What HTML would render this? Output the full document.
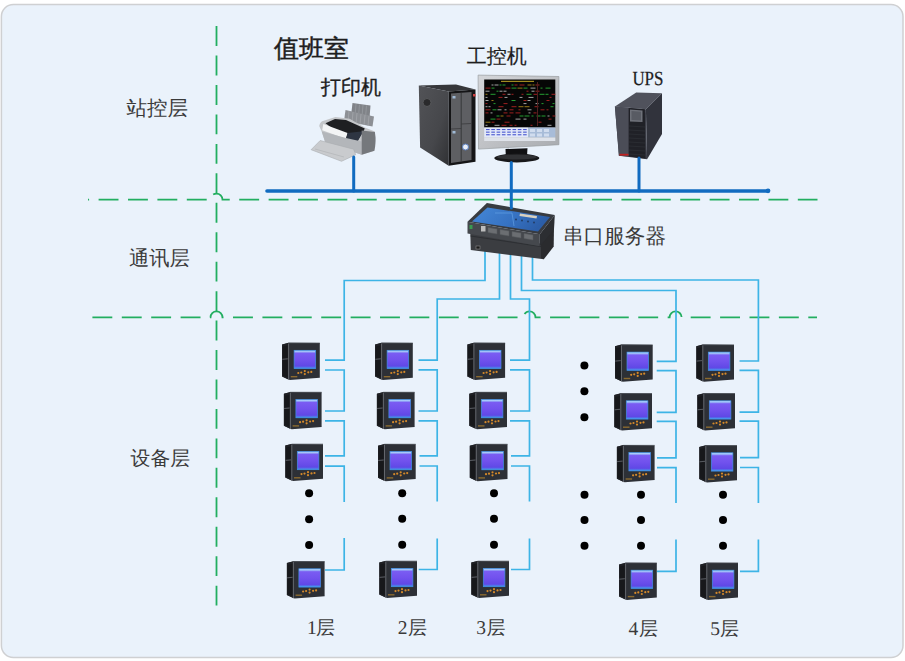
<!DOCTYPE html>
<html><head><meta charset="utf-8">
<style>
html,body{margin:0;padding:0;background:#fff;width:905px;height:661px;overflow:hidden}
svg{display:block}
.t{font-family:"Liberation Sans",sans-serif;fill:#3a3a3a}
.n{font-family:"Liberation Serif",serif;fill:#3a3a3a}
</style></head><body>
<svg width="905" height="661" viewBox="0 0 905 661" text-rendering="geometricPrecision">
<defs>
  <linearGradient id="scr" x1="0" y1="0" x2="0" y2="1">
    <stop offset="0" stop-color="#bfeaff"/>
    <stop offset="0.08" stop-color="#9ab8f8"/>
    <stop offset="0.16" stop-color="#7a5cf2"/>
    <stop offset="0.5" stop-color="#7252ee"/>
    <stop offset="0.86" stop-color="#6048e6"/>
    <stop offset="0.94" stop-color="#5078ea"/>
    <stop offset="1" stop-color="#44aef0"/>
  </linearGradient>
  <g id="meter">
    <path d="M0.3 2 L6.5 0.3 L38 0.6 L38 35.2 L8 37.5 L0.3 34 Z" fill="#2d3036"/>
    <path d="M0.3 2 L6.5 0.5 L6.5 37 L0.3 34 Z" fill="#1f2024"/>
    <path d="M1 4 L5.8 3 L5.8 15.5 L1 16 Z M1 17.5 L5.8 17 L5.8 35 L1 33 Z" fill="#17181b"/>
    <path d="M0.5 16.8 L6 16.3" stroke="#5e6166" stroke-width="0.9"/>
    <path d="M6.8 1 L6.8 37.3" stroke="#6a6d73" stroke-width="0.9"/>
    <path d="M6.5 0.6 L38 0.6" stroke="#44474e" stroke-width="0.8"/>
    <rect x="12.3" y="7.8" width="21.6" height="18.3" fill="url(#scr)" stroke="#3f8ee8" stroke-width="0.7"/>
    <g fill="#d4892a">
      <circle cx="16.5" cy="30.5" r="1.1"/><circle cx="19.5" cy="30" r="1.1"/>
      <circle cx="23" cy="28.6" r="1.1"/><circle cx="23" cy="31.6" r="1.1"/>
      <circle cx="26.5" cy="29.8" r="1.1"/><circle cx="29.5" cy="29.4" r="1.1"/>
    </g>
    <rect x="9" y="33.5" width="6.5" height="1.4" fill="#8a6a30"/>
  </g>
</defs>

<!-- frame -->
<rect x="1.4" y="4.4" width="901.6" height="653.2" rx="12" ry="12" fill="#eaf2fb" stroke="#cfd0d2" stroke-width="1.5"/>

<!-- green dashed lines -->
<g fill="none" stroke="#22ae60" stroke-width="1.8">
  <path d="M216.5 26.1 V605.5" stroke-dasharray="19.9 9.55"/>
  <path d="M88 199.6 H210.5 A6 6 0 0 1 222.5 199.6 H817.5" stroke-dasharray="19.9 9.5" stroke-dashoffset="18.8"/>
  <path d="M92.4 317.4 H210.5 A6 6 0 0 1 222.5 317.4 H523.5 A6 6 0 0 1 535.5 317.4 H669.6 A6 6 0 0 1 681.6 317.4 H817" stroke-dasharray="19.9 9.5"/>
</g>

<!-- light blue connections -->
<g fill="none" stroke="#3db4e6" stroke-width="1.7">
  <path d="M485 250 V280.5 H344.2 V360.2 H325"/>
  <path d="M499.5 250 V299 H437.2 V360.2 H418.5"/>
  <path d="M510.5 250 V299 H529.5 V360.2 H510"/>
  <path d="M521.5 250 V290.5 H676 V361.3 H656.7"/>
  <path d="M532.5 250 V280 H758.4 V361 H739.5"/>
  <!-- col1 -->
  <path d="M325 370 H344.2 V411 H325"/>
  <path d="M325 420.8 H344.2 V455.8 H325"/>
  <path d="M325 466.2 H344.2 V502"/>
  <path d="M344.2 538 V570 H325"/>
  <!-- col2 -->
  <path d="M418.5 369.8 H437.2 V411 H418.5"/>
  <path d="M418.5 420.8 H437.2 V455.9 H419.5"/>
  <path d="M419.5 466 H437.2 V501.5"/>
  <path d="M437.2 538.4 V569.5 H418.7"/>
  <!-- col3 -->
  <path d="M510 369.8 H529.5 V411 H510"/>
  <path d="M510 420.8 H529.5 V455.9 H511"/>
  <path d="M511 466 H529.5 V501.5"/>
  <path d="M529.5 538.4 V569.5 H511"/>
  <!-- col4 -->
  <path d="M656.7 370.6 H676 V412.4 H656.7"/>
  <path d="M656.7 421.4 H676 V457.8 H657"/>
  <path d="M657 467.7 H676 V503"/>
  <path d="M676 539.5 V571.3 H657"/>
  <!-- col5 -->
  <path d="M739.5 370.4 H758.4 V412.2 H739.5"/>
  <path d="M739.5 421.2 H758.4 V457.6 H740"/>
  <path d="M740 467.5 H758.4 V503"/>
  <path d="M758.4 539.5 V571.3 H740"/>
</g>


<!-- printer -->
<g id="printer">
  <polygon points="352.5,103 370.5,105.5 369.5,118 351,116" fill="#808388"/>
  <path d="M356 104 L355 116 M359.5 104.5 L358.5 116.5 M363 105 L362 117 M366.5 105.5 L365.5 117.5" stroke="#979a9f" stroke-width="0.8"/>
  <polygon points="345.5,110 374,116.5 372.5,126.5 344,121" fill="#8d9095"/>
  <path d="M349 111 L348 122 M353 112 L352 123 M357 113 L356 124 M361 114 L360 124.5 M365 115 L364 125 M369 116 L368 126" stroke="#a3a6ab" stroke-width="0.8"/>
  <path d="M319.2,126 Q320,121.5 323.7,120.8 L335.4,117 L349.6,118.8 L364.8,127.4 L374.9,131.4 L374.4,150.7 L361.7,154.7 L325.3,142.6 L321.7,131.4 Z" fill="#c4c6c9"/>
  <polygon points="325.5,123.2 335,119 346,120 364.8,128.6 363.6,131 357,141.5 346,138.5" fill="#1e1f22"/>
  <polygon points="323.3,123.9 347.6,133 345.9,138.8 322.2,130.2" fill="#f3f4f5"/>
  <polygon points="347.6,133 363.2,131.2 357.5,141.8 345.9,139.8" fill="#2e3542"/>
  <polygon points="321.7,131.4 346,138 361.7,141.6 361.7,154.7 325.3,142.6" fill="#b3b6ba"/>
  <path d="M361.7,130.4 L374.9,132 Q376.5,141 374.4,150.7 L361.7,154.7 Z" fill="#75787c"/>
  <polygon points="311.1,149.7 320.2,140.5 353.6,149.2 355.7,154.7 341.5,161.3" fill="#c9cbce" stroke="#a9acb0" stroke-width="0.6"/>
  <path d="M315 149 L344 157" stroke="#b2b5b8" stroke-width="0.7"/>
</g>
<!-- tower pc -->
<g id="tower">
  <polygon points="418.8,85.4 456,84.5 475.5,89.5 448.7,91.6" fill="#36373a"/>
  <defs><linearGradient id="side" x1="0" y1="0" x2="1" y2="1">
    <stop offset="0" stop-color="#525357"/><stop offset="0.6" stop-color="#46474b"/><stop offset="1" stop-color="#303134"/></linearGradient></defs>
  <polygon points="418.8,85.4 448.7,91.6 448.7,165.8 420.1,147.4" fill="url(#side)"/>
  <polygon points="448.7,91.6 475.5,89.5 475.5,161.7 448.7,165.8" fill="#151517"/>
  <polygon points="451,93.5 471.5,92 471.5,160 451,163" fill="#5e5f63"/>
  <path d="M461.2 92.8 V161.5" stroke="#333436" stroke-width="0.9"/>
  <path d="M451 129 L461.2 128.5 M461.2 124 L471.5 123.5" stroke="#3a3a3c" stroke-width="0.8"/>
  <circle cx="427" cy="102.5" r="4" fill="#2a2a2c" stroke="#5a5b5e" stroke-width="0.9"/>
  <circle cx="465.5" cy="147" r="3" fill="#e8eef8" stroke="#5a7fc0" stroke-width="1"/>
  <rect x="452.5" y="96" width="3" height="2.5" fill="#9fbad6"/>
  <rect x="452.5" y="131" width="3" height="2.5" fill="#9fbad6"/>
  <rect x="473" y="94" width="2.5" height="2.5" fill="#d04040"/>
</g>
<!-- monitor -->
<g id="monitor">
  <defs><linearGradient id="bez" x1="0" y1="0" x2="1" y2="1">
    <stop offset="0" stop-color="#d4d6d9"/><stop offset="0.5" stop-color="#c0c2c6"/><stop offset="1" stop-color="#a9acb0"/></linearGradient></defs>
  <polygon points="478.1,75.1 558.9,76.5 558.9,144.7 478.5,149.1" fill="url(#bez)" stroke="#9a9da1" stroke-width="0.7"/>
  <rect x="484.2" y="79.5" width="71.1" height="48" fill="#060606"/>
  <rect x="484.2" y="127.5" width="44" height="10" fill="#e2e8f8"/>
  <rect x="528.2" y="127.5" width="27.1" height="10" fill="#a8bcd8"/>
  <g fill="#4a58d0">
<rect x="486.0" y="129.0" width="3.6" height="1.1"/>
<rect x="486.0" y="131.6" width="3.6" height="1.1"/>
<rect x="486.0" y="134.2" width="3.6" height="1.1"/>
<rect x="491.3" y="129.0" width="3.6" height="1.1"/>
<rect x="491.3" y="131.6" width="3.6" height="1.1"/>
<rect x="491.3" y="134.2" width="3.6" height="1.1"/>
<rect x="496.6" y="129.0" width="3.6" height="1.1"/>
<rect x="496.6" y="131.6" width="3.6" height="1.1"/>
<rect x="496.6" y="134.2" width="3.6" height="1.1"/>
<rect x="501.9" y="129.0" width="3.6" height="1.1"/>
<rect x="501.9" y="131.6" width="3.6" height="1.1"/>
<rect x="501.9" y="134.2" width="3.6" height="1.1"/>
<rect x="507.2" y="129.0" width="3.6" height="1.1"/>
<rect x="507.2" y="131.6" width="3.6" height="1.1"/>
<rect x="507.2" y="134.2" width="3.6" height="1.1"/>
<rect x="512.5" y="129.0" width="3.6" height="1.1"/>
<rect x="512.5" y="131.6" width="3.6" height="1.1"/>
<rect x="512.5" y="134.2" width="3.6" height="1.1"/>
<rect x="517.8" y="129.0" width="3.6" height="1.1"/>
<rect x="517.8" y="131.6" width="3.6" height="1.1"/>
<rect x="517.8" y="134.2" width="3.6" height="1.1"/>
<rect x="523.1" y="129.0" width="3.6" height="1.1"/>
<rect x="523.1" y="131.6" width="3.6" height="1.1"/>
<rect x="523.1" y="134.2" width="3.6" height="1.1"/>
</g>
  <g fill="#d0dcee"><rect x="530" y="129" width="5" height="3"/><rect x="537" y="129" width="5" height="3"/><rect x="544" y="129" width="5" height="3"/>
  <rect x="530" y="133.5" width="5" height="3"/><rect x="537" y="133.5" width="5" height="3"/><rect x="544" y="133.5" width="5" height="3"/></g>
  <rect x="484.2" y="137.5" width="71.1" height="3.5" fill="#dfe3ea"/>
  <rect x="501" y="80.8" width="33" height="1.2" fill="#a08a20"/>
  <g opacity="0.75">
    <rect x="491.5" y="84.5" width="2" height="1" fill="#d8d8d8"/>
    <rect x="494.5" y="84.5" width="4" height="1" fill="#d8d8d8"/>
    <rect x="499.5" y="84.5" width="2" height="1" fill="#30d040"/>
    <rect x="502.5" y="84.5" width="3" height="1" fill="#30d040"/>
    <rect x="511.5" y="84.5" width="2" height="1" fill="#30d040"/>
    <rect x="514.5" y="84.5" width="3" height="1" fill="#d02828"/>
    <rect x="519.5" y="84.5" width="5" height="1" fill="#d02828"/>
    <rect x="527.5" y="84.5" width="4" height="1" fill="#c8a020"/>
    <rect x="532.5" y="84.5" width="2" height="1" fill="#c8a020"/>
    <rect x="535.5" y="84.5" width="4" height="1" fill="#d02828"/>
    <rect x="485.5" y="87.6" width="5" height="1" fill="#d02828"/>
    <rect x="491.5" y="87.6" width="3" height="1" fill="#30d040"/>
    <rect x="505.5" y="87.6" width="5" height="1" fill="#d02828"/>
    <rect x="511.5" y="87.6" width="5" height="1" fill="#30d040"/>
    <rect x="517.5" y="87.6" width="5" height="1" fill="#c8a020"/>
    <rect x="523.5" y="87.6" width="4" height="1" fill="#30d040"/>
    <rect x="530.5" y="87.6" width="5" height="1" fill="#d8d8d8"/>
    <rect x="540.5" y="87.6" width="2" height="1" fill="#30d040"/>
    <rect x="545.5" y="87.6" width="5" height="1" fill="#30d040"/>
    <rect x="485.5" y="90.7" width="4" height="1" fill="#d8d8d8"/>
    <rect x="496.5" y="90.7" width="2" height="1" fill="#30d040"/>
    <rect x="499.5" y="90.7" width="3" height="1" fill="#d8d8d8"/>
    <rect x="503.5" y="90.7" width="3" height="1" fill="#d8d8d8"/>
    <rect x="526.5" y="90.7" width="2" height="1" fill="#d02828"/>
    <rect x="531.5" y="90.7" width="3" height="1" fill="#d8d8d8"/>
    <rect x="535.5" y="90.7" width="4" height="1" fill="#d02828"/>
    <rect x="485.5" y="93.8" width="2" height="1" fill="#c8a020"/>
    <rect x="490.5" y="93.8" width="5" height="1" fill="#30d040"/>
    <rect x="502.5" y="93.8" width="3" height="1" fill="#d02828"/>
    <rect x="507.5" y="93.8" width="3" height="1" fill="#d8d8d8"/>
    <rect x="511.5" y="93.8" width="2" height="1" fill="#d02828"/>
    <rect x="521.5" y="93.8" width="2" height="1" fill="#d02828"/>
    <rect x="526.5" y="93.8" width="5" height="1" fill="#30d040"/>
    <rect x="533.5" y="93.8" width="4" height="1" fill="#d02828"/>
    <rect x="539.5" y="93.8" width="5" height="1" fill="#30d040"/>
    <rect x="545.5" y="93.8" width="3" height="1" fill="#30d040"/>
    <rect x="551.5" y="93.8" width="4" height="1" fill="#d02828"/>
    <rect x="485.5" y="96.9" width="2" height="1" fill="#d8d8d8"/>
    <rect x="498.5" y="96.9" width="4" height="1" fill="#d02828"/>
    <rect x="504.5" y="96.9" width="3" height="1" fill="#d8d8d8"/>
    <rect x="519.5" y="96.9" width="3" height="1" fill="#d8d8d8"/>
    <rect x="528.5" y="96.9" width="5" height="1" fill="#d8d8d8"/>
    <rect x="549.5" y="96.9" width="2" height="1" fill="#d02828"/>
    <rect x="485.5" y="100.0" width="3" height="1" fill="#d8d8d8"/>
    <rect x="491.5" y="100.0" width="2" height="1" fill="#c8a020"/>
    <rect x="511.5" y="100.0" width="4" height="1" fill="#30d040"/>
    <rect x="523.5" y="100.0" width="3" height="1" fill="#d02828"/>
    <rect x="527.5" y="100.0" width="3" height="1" fill="#d8d8d8"/>
    <rect x="546.5" y="100.0" width="3" height="1" fill="#d02828"/>
    <rect x="485.5" y="103.1" width="2" height="1" fill="#d02828"/>
    <rect x="493.5" y="103.1" width="2" height="1" fill="#30d040"/>
    <rect x="503.5" y="103.1" width="4" height="1" fill="#d02828"/>
    <rect x="523.5" y="103.1" width="3" height="1" fill="#d8d8d8"/>
    <rect x="535.5" y="103.1" width="3" height="1" fill="#d8d8d8"/>
    <rect x="541.5" y="103.1" width="2" height="1" fill="#30d040"/>
    <rect x="552.5" y="103.1" width="2" height="1" fill="#30d040"/>
    <rect x="485.5" y="106.2" width="2" height="1" fill="#d8d8d8"/>
    <rect x="488.5" y="106.2" width="2" height="1" fill="#d8d8d8"/>
    <rect x="498.5" y="106.2" width="5" height="1" fill="#d02828"/>
    <rect x="511.5" y="106.2" width="5" height="1" fill="#d02828"/>
    <rect x="518.5" y="106.2" width="5" height="1" fill="#c8a020"/>
    <rect x="524.5" y="106.2" width="5" height="1" fill="#c8a020"/>
    <rect x="534.5" y="106.2" width="4" height="1" fill="#d02828"/>
    <rect x="550.5" y="106.2" width="3" height="1" fill="#30d040"/>
    <rect x="485.5" y="109.3" width="5" height="1" fill="#d02828"/>
    <rect x="492.5" y="109.3" width="4" height="1" fill="#30d040"/>
    <rect x="497.5" y="109.3" width="4" height="1" fill="#d8d8d8"/>
    <rect x="504.5" y="109.3" width="2" height="1" fill="#d8d8d8"/>
    <rect x="509.5" y="109.3" width="4" height="1" fill="#d02828"/>
    <rect x="518.5" y="109.3" width="2" height="1" fill="#d02828"/>
    <rect x="527.5" y="109.3" width="4" height="1" fill="#d8d8d8"/>
    <rect x="540.5" y="109.3" width="4" height="1" fill="#d02828"/>
    <rect x="546.5" y="109.3" width="2" height="1" fill="#d02828"/>
    <rect x="485.5" y="112.4" width="3" height="1" fill="#d02828"/>
    <rect x="490.5" y="112.4" width="2" height="1" fill="#d8d8d8"/>
    <rect x="503.5" y="112.4" width="4" height="1" fill="#d02828"/>
    <rect x="509.5" y="112.4" width="4" height="1" fill="#d02828"/>
    <rect x="515.5" y="112.4" width="5" height="1" fill="#d02828"/>
    <rect x="528.5" y="112.4" width="2" height="1" fill="#d8d8d8"/>
    <rect x="533.5" y="112.4" width="3" height="1" fill="#d02828"/>
    <rect x="496.5" y="115.5" width="3" height="1" fill="#30d040"/>
    <rect x="500.5" y="115.5" width="3" height="1" fill="#c8a020"/>
    <rect x="506.5" y="115.5" width="4" height="1" fill="#d02828"/>
    <rect x="519.5" y="115.5" width="4" height="1" fill="#30d040"/>
    <rect x="524.5" y="115.5" width="5" height="1" fill="#30d040"/>
    <rect x="531.5" y="115.5" width="2" height="1" fill="#30d040"/>
    <rect x="536.5" y="115.5" width="4" height="1" fill="#30d040"/>
    <rect x="541.5" y="115.5" width="4" height="1" fill="#30d040"/>
    <rect x="547.5" y="115.5" width="2" height="1" fill="#d8d8d8"/>
    <rect x="552.5" y="115.5" width="3" height="1" fill="#d02828"/>
    <rect x="490.5" y="118.6" width="5" height="1" fill="#30d040"/>
    <rect x="496.5" y="118.6" width="4" height="1" fill="#d02828"/>
    <rect x="515.5" y="118.6" width="5" height="1" fill="#d8d8d8"/>
    <rect x="523.5" y="118.6" width="3" height="1" fill="#d8d8d8"/>
    <rect x="548.5" y="118.6" width="3" height="1" fill="#d02828"/>
    <rect x="485.5" y="121.7" width="5" height="1" fill="#c8a020"/>
    <rect x="491.5" y="121.7" width="3" height="1" fill="#d02828"/>
    <rect x="504.5" y="121.7" width="5" height="1" fill="#d02828"/>
    <rect x="538.5" y="121.7" width="3" height="1" fill="#d02828"/>
    <rect x="485.5" y="124.8" width="2" height="1" fill="#d8d8d8"/>
    <rect x="494.5" y="124.8" width="5" height="1" fill="#d8d8d8"/>
    <rect x="501.5" y="124.8" width="5" height="1" fill="#d02828"/>
    <rect x="509.5" y="124.8" width="3" height="1" fill="#d02828"/>
    <rect x="514.5" y="124.8" width="2" height="1" fill="#d02828"/>
    <rect x="530.5" y="124.8" width="2" height="1" fill="#d02828"/>
    <rect x="547.5" y="124.8" width="4" height="1" fill="#d8d8d8"/>
  </g>
  <rect x="537" y="82" width="1" height="44" fill="#502020"/>
  <path d="M505.5 149 L527.5 148.2 L527 155.5 L505.8 155.8 Z" fill="#101012"/>
  <ellipse cx="516.8" cy="158" rx="22.5" ry="4.4" fill="#18181a"/>
  <ellipse cx="516.8" cy="157" rx="20" ry="2.6" fill="#303134"/>
</g>
<!-- ups -->
<g id="ups">
  <polygon points="614.9,106.4 636.2,92.6 662,93.2 645.9,109.3" fill="#50525c"/>
  <polygon points="645.9,109.3 662,93.2 662,134 647.1,159.3" fill="#31333c"/>
  <polygon points="614.9,106.4 645.9,109.3 647.1,159.3 618.9,155.8" fill="#3d3f49"/>
  <polygon points="614.9,106.4 628.7,107.8 628.7,156.5 618.9,155.8" fill="#4b4d57"/>
  <polygon points="628.7,107.9 644.8,109.2 645.5,158.6 628.7,156.5" fill="#202127"/>
  <polygon points="630,109.5 642.5,110.5 642.5,122 630,121.5" fill="#6f727a"/>
  <polygon points="631.5,111 641,111.8 641,120.5 631.5,120" fill="#585b63"/>
  <g stroke="#2e3037" stroke-width="0.7">
    <path d="M629 126 L645 127 M629 130 L645 131 M629 134 L645 135 M629 138 L645 139 M629 142 L645 143 M629 146 L645 147 M629 150 L645 151 M629 154 L645 155"/>
  </g>
  <rect x="619.5" y="153.8" width="9" height="1.8" fill="#c02020"/>
</g>
<!-- serial server -->
<g id="server">
  <polygon points="470.3,233 543.8,244 543.8,259.3 470.8,250" fill="#3b3d41"/>
  <path d="M470.5 236 L543.8 247" stroke="#2a2c30" stroke-width="0.8"/>
  <polygon points="541,240 554,226 553.7,246.6 543.8,259.3 541,258" fill="#2a2b2e"/>
  <polygon points="467.5,221.8 486.9,203 554.8,215.1 539.8,234.3" fill="#383b40"/>
  <defs><linearGradient id="bp" x1="0" y1="0" x2="1" y2="0.3">
    <stop offset="0" stop-color="#4588d8"/><stop offset="0.6" stop-color="#3672c2"/><stop offset="1" stop-color="#2c5ea8"/></linearGradient></defs>
  <polygon points="472,221.5 487.5,207.5 550,217 538,231.5" fill="url(#bp)"/>
  <path d="M495 213 L512 213 L514 226" stroke="#6aa8ea" stroke-width="0.6" fill="none"/>
  <polygon points="520,213.5 537,216 536.5,218.5 519.5,216" fill="#d8d0c0"/>
  <g fill="#223a60"><circle cx="516" cy="219.5" r="0.9"/><circle cx="522" cy="220.5" r="0.9"/><circle cx="528" cy="221.5" r="0.9"/><circle cx="534" cy="222.5" r="0.9"/></g>
  <polygon points="467.5,221.8 539.8,234.3 539.8,246.2 467.5,233.5" fill="#45484d"/>
  <polygon points="539.8,234.3 554.8,215.1 554,229.5 539.8,246.2" fill="#2c2e32"/>
  <g fill="#6b6e72" stroke="#55585c" stroke-width="0.5">
    <polygon points="488,227.5 497,229 497,234 488,232.5"/>
    <polygon points="500,229.5 509,231 509,236 500,234.5"/>
    <polygon points="512,231.5 521,233 521,238 512,236.5"/>
    <polygon points="524,233.5 533,235 533,240 524,238.5"/>
  </g>
  <rect x="481" y="226" width="4.5" height="5.5" fill="#bdbdbd"/>
  <rect x="469.5" y="225" width="3" height="4" fill="#3a9a50"/>
  <rect x="476" y="246" width="4" height="3" fill="#1a1a1a" stroke="#8a8a8a" stroke-width="0.6"/>
</g>
<!-- dark blue bus -->
<g stroke="#116bc0" fill="none" stroke-linecap="round">
  <path d="M267 191 H768" stroke-width="3.6"/>
  <path d="M353.7 157 V191" stroke-width="3"/>
  <path d="M511.3 162.5 V208" stroke-width="3"/>
  <path d="M639 158 V191" stroke-width="3"/>
</g>
<circle cx="768" cy="190.8" r="2.4" fill="#116bc0"/>

<!-- meters -->
<use href="#meter" x="281.8" y="342.5"/>
<use href="#meter" x="283.6" y="391.7"/>
<use href="#meter" x="285" y="443.6"/>
<use href="#meter" x="286.6" y="561"/>
<use href="#meter" x="374.8" y="342.5"/>
<use href="#meter" x="376.6" y="391.7"/>
<use href="#meter" x="377.7" y="443.7"/>
<use href="#meter" x="379" y="560.6"/>
<use href="#meter" x="467.1" y="342.5"/>
<use href="#meter" x="469" y="391.7"/>
<use href="#meter" x="469.5" y="443.7"/>
<use href="#meter" x="471" y="560.6"/>
<use href="#meter" x="614.7" y="344.3"/>
<use href="#meter" x="614" y="393"/>
<use href="#meter" x="616.6" y="444.8"/>
<use href="#meter" x="618.8" y="562.4"/>
<use href="#meter" x="696" y="344.3"/>
<use href="#meter" x="697" y="393"/>
<use href="#meter" x="699" y="445"/>
<use href="#meter" x="700" y="562.4"/>

<!-- dots -->
<g fill="#000">
  <circle cx="309.1" cy="493.3" r="4"/><circle cx="309.1" cy="519.3" r="4"/><circle cx="309.1" cy="544.9" r="4"/>
  <circle cx="402.2" cy="493.3" r="4"/><circle cx="402.2" cy="518.7" r="4"/><circle cx="402.2" cy="544.8" r="4"/>
  <circle cx="494" cy="493.3" r="4"/><circle cx="494" cy="518.7" r="4"/><circle cx="494" cy="544.8" r="4"/>
  <circle cx="584.4" cy="365.5" r="4"/><circle cx="584.4" cy="391.2" r="4"/><circle cx="584.4" cy="417.2" r="4"/>
  <circle cx="584.5" cy="494.7" r="4"/><circle cx="584.5" cy="520.1" r="4"/><circle cx="584.5" cy="545.8" r="4"/>
  <circle cx="641" cy="494.7" r="4"/><circle cx="641" cy="520.1" r="4"/><circle cx="641" cy="545.8" r="4"/>
  <circle cx="723" cy="494.7" r="4"/><circle cx="723" cy="520.1" r="4"/><circle cx="723" cy="545.8" r="4"/>
</g>

<!-- labels -->
<text class="t" x="126.5" y="114.6" font-size="20.5">站控层</text>
<text class="t" x="129" y="264.8" font-size="20.3">通讯层</text>
<text class="t" x="130.5" y="464.6" font-size="19.9">设备层</text>
<text class="t" x="563" y="242.6" font-size="20.6">串口服务器</text>
<text class="t" x="274" y="56.5" font-size="25" style="fill:#1e1e1e;stroke:#1e1e1e;stroke-width:0.45">值班室</text>
<text class="t" x="321" y="93.8" font-size="20" style="fill:#1e1e1e;stroke:#1e1e1e;stroke-width:0.35">打印机</text>
<text class="t" x="466.8" y="62.5" font-size="20" style="fill:#1e1e1e;stroke:#1e1e1e;stroke-width:0.2">工控机</text>
<text class="n" x="632.4" y="85" font-size="20" style="fill:#1e1e1e;stroke:#1e1e1e;stroke-width:0.25" textLength="31" lengthAdjust="spacingAndGlyphs">UPS</text>
<text class="n" x="307" y="633.5" font-size="19.5">1</text><text class="t" x="316" y="633.5" font-size="19">层</text>
<text class="n" x="397.8" y="633.5" font-size="19.5">2</text><text class="t" x="408" y="633.5" font-size="19">层</text>
<text class="n" x="476.3" y="633.5" font-size="19.5">3</text><text class="t" x="486.5" y="633.5" font-size="19">层</text>
<text class="n" x="628.5" y="634.8" font-size="19.5">4</text><text class="t" x="639" y="634.8" font-size="19">层</text>
<text class="n" x="710.3" y="634.8" font-size="19.5">5</text><text class="t" x="720" y="634.8" font-size="19">层</text>
</svg>
</body></html>
